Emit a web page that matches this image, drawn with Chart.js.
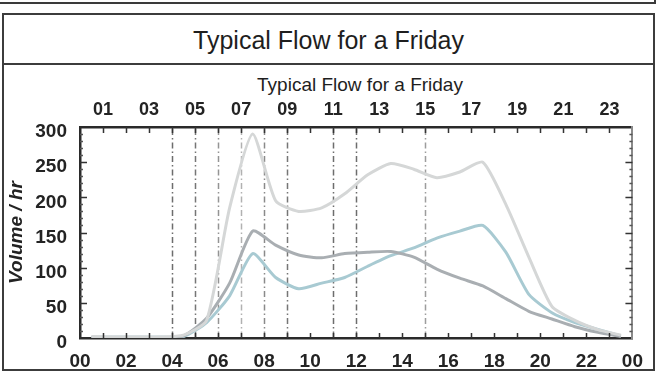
<!DOCTYPE html>
<html>
<head>
<meta charset="utf-8">
<title>Typical Flow for a Friday</title>
<script src="https://cdn.jsdelivr.net/npm/chart.js@4.4.0/dist/chart.umd.min.js"></script>
<style>
  html, body { margin: 0; padding: 0; background: #fff; width: 669px; height: 383px; overflow: hidden;
    font-family: "Liberation Sans", Arial, sans-serif; }
  .rule-top { position: absolute; left: 0; top: 2px; width: 656px; height: 2px; background: #3a3a3a; }
  .rule-corner { position: absolute; left: 654px; top: 0; width: 2px; height: 4px; background: #3a3a3a; }
  .title-box { position: absolute; left: 2px; top: 13px; width: 649px; height: 48px; border: 2px solid #3c3c3c; }
  .title-box h1 { margin: 0; font-size: 25px; font-weight: normal; line-height: 50px; text-align: center; color: #1e1e1e; }
  .chart-box { position: absolute; left: 2px; top: 63px; width: 649px; height: 306px; border: 2px solid #3c3c3c; border-top: none; }
  .plot-title { position: absolute; left: 80px; width: 560px; top: 74px; height: 22px; line-height: 22px;
    text-align: center; font-size: 19px; color: #1e1e1e; }
  #wrap { position: absolute; left: 0; top: 65px; width: 655px; height: 308px; }
</style>
</head>
<body>
<div class="rule-top"></div>
<div class="rule-corner"></div>
<div class="title-box"><h1>Typical Flow for a Friday</h1></div>
<div class="chart-box"></div>
<div class="plot-title">Typical Flow for a Friday</div>
<div id="wrap"><canvas id="flow" width="655" height="308"></canvas></div>
<script>
// Hourly volumes, plotted at the middle of each hour
const hours = [0.5, 1.5, 2.5, 3.5, 4.5, 5.5, 6.5, 7.5, 8.5, 9.5, 10.5, 11.5,
               12.5, 13.5, 14.5, 15.5, 16.5, 17.5, 18.5, 19.5, 20.5, 21.5, 22.5, 23.5];
const upperFlow = [2, 1, 1, 1, 4, 25, 185, 290, 195, 180, 185, 205,
                   232, 248, 240, 228, 236, 250, 190, 115, 45, 25, 12, 4];
const middleFlow = [1, 1, 1, 1, 3, 28, 78, 152, 132, 118, 114, 120,
                    122, 123, 115, 98, 85, 74, 56, 38, 27, 16, 8, 2];
const lowerFlow = [1, 1, 1, 1, 2, 22, 60, 120, 86, 70, 78, 86,
                   102, 117, 128, 142, 152, 160, 122, 62, 36, 22, 12, 3];

// Axis labels
const bottomHourTicks = [0, 2, 4, 6, 8, 10, 12, 14, 16, 18, 20, 22, 24];
const topHourTicks = [1, 3, 5, 7, 9, 11, 13, 15, 17, 19, 21, 23];
const volumeTicks = [0, 50, 100, 150, 200, 250, 300];

// Dotted hour rules and their strength
const ruleHours = [4, 5, 6, 7, 8, 9, 11, 12, 15];
const ruleAlpha = [0.75, 0.7, 0.55, 0.4, 0.6, 0.7, 0.75, 0.75, 0.5];

const FONT = '"Liberation Sans", Arial, sans-serif';
const INK = '#232323';

function points(values) {
  return hours.map((h, i) => ({ x: h, y: values[i] }));
}
function hh(v) {
  return String(v % 24).padStart(2, '0');
}

// Inward tick marks on all four sides, plus the dotted hour rules
const axisMarks = {
  id: 'axisMarks',
  beforeDatasetsDraw(chart) {
    const { ctx, chartArea: a, scales } = chart;
    ctx.save();
    ctx.lineWidth = 1.5;
    ctx.setLineDash([6, 3, 1.5, 3]);
    ruleHours.forEach((h, i) => {
      const px = Math.round(scales.x.getPixelForValue(h)) + 0.5;
      ctx.strokeStyle = `rgba(60,60,60,${ruleAlpha[i]})`;
      ctx.beginPath();
      ctx.moveTo(px, a.top + 2);
      ctx.lineTo(px, a.bottom);
      ctx.stroke();
    });
    ctx.restore();
  },
  afterDraw(chart) {
    const { ctx, chartArea: a, scales } = chart;
    ctx.save();
    ctx.strokeStyle = '#333';
    ctx.lineWidth = 1.5;
    for (let h = 1; h < 24; h++) {
      const px = Math.round(scales.x.getPixelForValue(h)) + 0.5;
      ctx.beginPath();
      ctx.moveTo(px, a.top); ctx.lineTo(px, a.top + 6);
      ctx.moveTo(px, a.bottom); ctx.lineTo(px, a.bottom - 5);
      ctx.stroke();
    }
    for (let v = 10; v < 300; v += 10) {
      const py = Math.round(scales.y.getPixelForValue(v)) + 0.5;
      const len = v % 50 === 0 ? 7 : 3;
      ctx.strokeStyle = v % 50 === 0 ? '#333' : '#555';
      ctx.beginPath();
      ctx.moveTo(a.left, py); ctx.lineTo(a.left + len, py);
      ctx.moveTo(a.right, py); ctx.lineTo(a.right - len, py);
      ctx.stroke();
    }
    ctx.restore();
  }
};

const lineStyle = { pointRadius: 0, borderWidth: 3, tension: 0.2, fill: false, xAxisID: 'x', yAxisID: 'y' };

new Chart(document.getElementById('flow'), {
  type: 'line',
  data: {
    datasets: [
      { label: 'Upper', data: points(upperFlow), borderColor: '#d5d7d7', ...lineStyle },
      { label: 'Middle', data: points(middleFlow), borderColor: '#a9aeb2', ...lineStyle },
      { label: 'Lower', data: points(lowerFlow), borderColor: '#a8cad2', ...lineStyle }
    ]
  },
  plugins: [axisMarks],
  options: {
    responsive: false,
    animation: false,
    events: [],
    layout: { padding: 0 },
    plugins: { legend: { display: false }, tooltip: { enabled: false }, title: { display: false } },
    scales: {
      x: {
        type: 'linear', position: 'bottom', min: 0, max: 24,
        afterBuildTicks: s => { s.ticks = bottomHourTicks.map(v => ({ value: v })); },
        afterFit: s => { s.height = 35; },
        ticks: { callback: v => hh(v), autoSkip: false, maxRotation: 0, padding: 12,
                 color: INK, font: { family: FONT, size: 19, weight: 'bold' } },
        grid: { display: false, drawTicks: false },
        border: { display: true, color: '#2a2a2a', width: 2.5 }
      },
      xTop: {
        type: 'linear', position: 'top', min: 0, max: 24,
        afterBuildTicks: s => { s.ticks = topHourTicks.map(v => ({ value: v })); },
        afterFit: s => { s.height = 62; },
        ticks: { callback: v => hh(v), autoSkip: false, maxRotation: 0, padding: 6,
                 color: INK, font: { family: FONT, size: 18, weight: 'bold' } },
        grid: { display: false, drawTicks: false },
        border: { display: true, color: '#2a2a2a', width: 2.5 }
      },
      y: {
        type: 'linear', position: 'left', min: 0, max: 300,
        afterBuildTicks: s => { s.ticks = volumeTicks.map(v => ({ value: v })); },
        afterFit: s => { s.width = 80; },
        ticks: { padding: 13, labelOffset: 5, autoSkip: false,
                 color: INK, font: { family: FONT, size: 19, weight: 'bold' } },
        title: { display: true, text: 'Volume / hr', color: INK, padding: { top: 5, bottom: 0 },
                 font: { family: FONT, size: 19, weight: 'bold', style: 'italic' } },
        grid: { display: false, drawTicks: false },
        border: { display: true, color: '#2a2a2a', width: 2.5 }
      },
      yR: {
        type: 'linear', position: 'right', min: 0, max: 300,
        afterFit: s => { s.width = 15; },
        ticks: { display: false },
        grid: { display: false, drawTicks: false },
        border: { display: true, color: '#8a8a8a', width: 2 }
      }
    }
  }
});
</script>
</body>
</html>
